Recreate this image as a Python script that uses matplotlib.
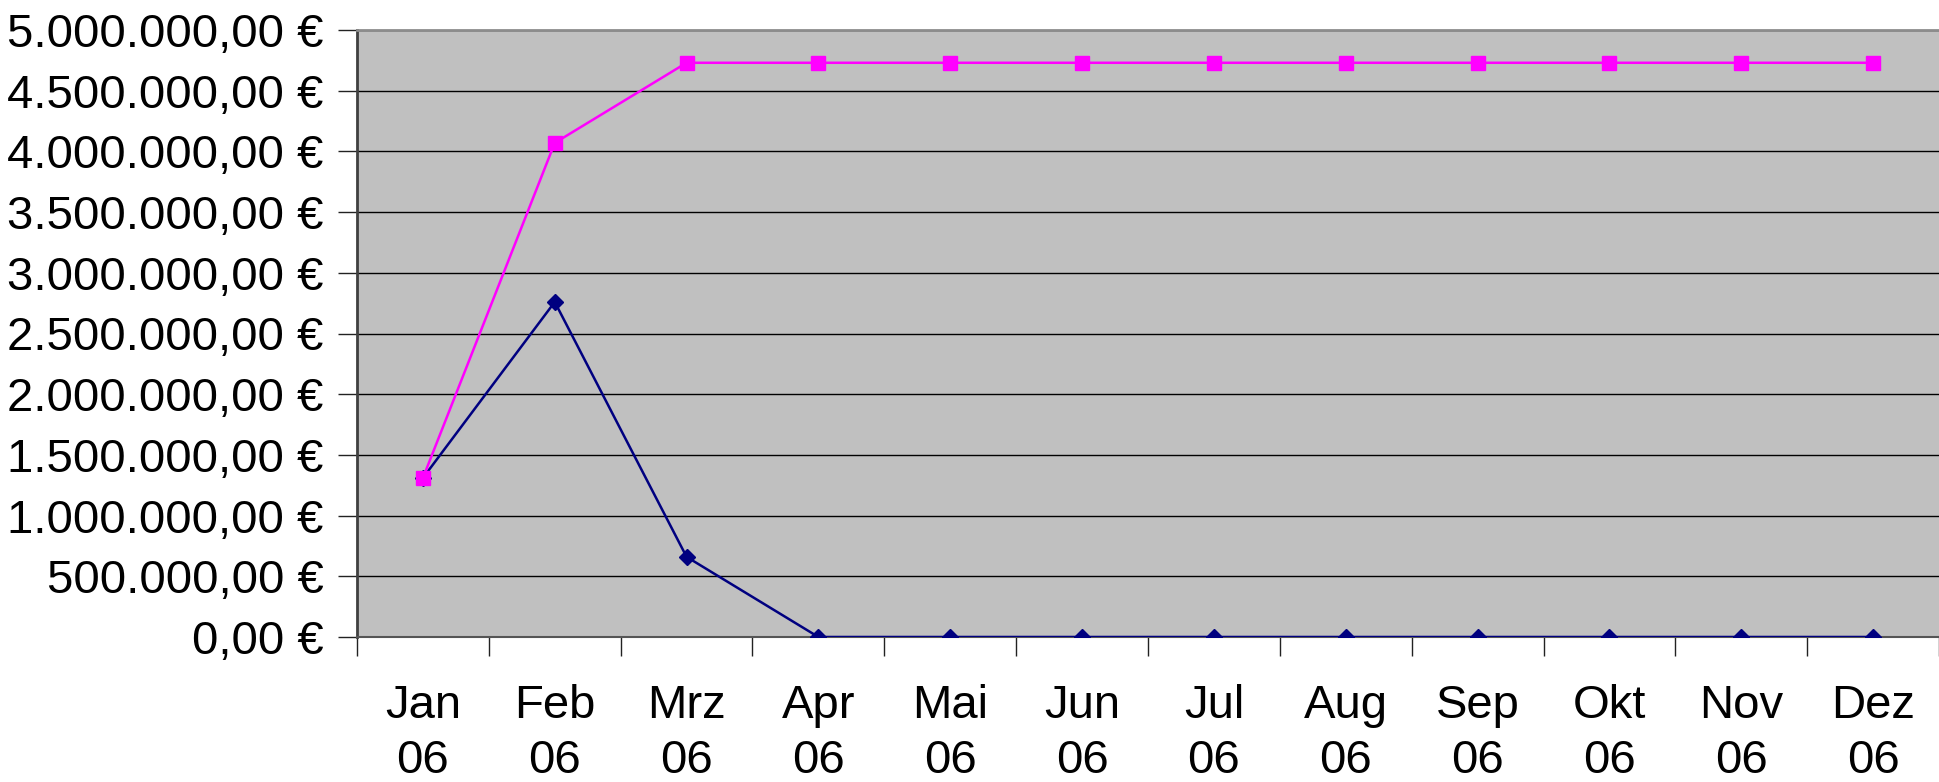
import matplotlib

matplotlib.use("Agg")
import matplotlib.pyplot as plt
from matplotlib.ticker import FuncFormatter, MultipleLocator

months = ["Jan", "Feb", "Mrz", "Apr", "Mai", "Jun", "Jul", "Aug", "Sep", "Okt", "Nov", "Dez"]
year = "06"
monthly = [1310000, 2760000, 660000, 0, 0, 0, 0, 0, 0, 0, 0, 0]
cumulative = [1310000, 4070000, 4730000, 4730000, 4730000, 4730000,
              4730000, 4730000, 4730000, 4730000, 4730000, 4730000]


def euro(value, _pos=None):
    text = f"{value:,.2f}"
    text = text.replace(",", "X").replace(".", ",").replace("X", ".")
    return f"{text} €"


plt.rcParams["font.family"] = ["Liberation Sans", "DejaVu Sans"]

fig = plt.figure(figsize=(19.39, 7.82), dpi=100)
ax = fig.add_axes([357 / 1939, 145 / 782, 1 - 357 / 1939, 607 / 782])
ax.set_facecolor("#C0C0C0")

x = list(range(len(months)))
ax.plot(x, monthly, color="#000080", lw=1.8, marker="D", ms=8.5, zorder=3)
ax.plot(x, cumulative, color="#FF00FF", lw=1.8, marker="s", ms=9.5, zorder=4)

ax.set_xlim(-0.5, 11.42)
ax.set_ylim(0, 5000000)
ax.yaxis.set_major_locator(MultipleLocator(500000))
ax.yaxis.set_major_formatter(FuncFormatter(euro))
ax.grid(axis="y", color="black", lw=1)
ax.set_axisbelow(True)

# ticks sit between the months, labels under each month
ax.set_xticks([i + 0.5 for i in range(-1, 12)], minor=False)
ax.set_xticklabels([])
ax.set_xticks(x, minor=True)
ax.set_xticklabels([f"{m}\n{year}" for m in months], minor=True, fontsize=34, linespacing=1.32)
ax.tick_params(axis="x", which="major", length=14, width=1, color="#222222", direction="out")
ax.tick_params(axis="x", which="minor", length=0, pad=34)
ax.tick_params(axis="y", length=14, width=1, color="#222222", labelsize=34, pad=10)

ax.spines["left"].set_color("#404040")
ax.spines["left"].set_linewidth(2)
ax.spines["bottom"].set_color("#555555")
ax.spines["bottom"].set_linewidth(1.5)
ax.spines["top"].set_color("#8C8C8C")
ax.spines["top"].set_linewidth(2)
ax.spines["right"].set_visible(False)

fig.savefig("out.png", dpi=100)
